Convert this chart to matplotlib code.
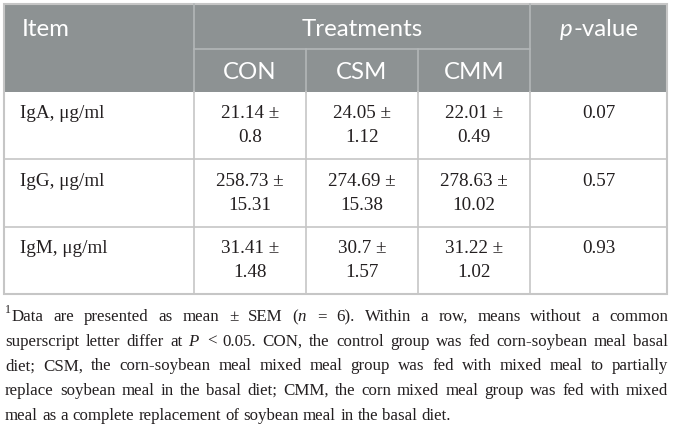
import matplotlib
matplotlib.use("Agg")
import matplotlib.pyplot as plt
from matplotlib.patches import Rectangle

# table values
items = ["IgA, μg/ml", "IgG, μg/ml", "IgM, μg/ml"]
groups = ["CON", "CSM", "CMM"]
con = [("21.14", "0.8"), ("258.73", "15.31"), ("31.41", "1.48")]
csm = [("24.05", "1.12"), ("274.69", "15.38"), ("30.7", "1.57")]
cmm = [("22.01", "0.49"), ("278.63", "10.02"), ("31.22", "1.02")]
pvals = ["0.07", "0.57", "0.93"]

footnote = [
    "Data are presented as mean ± SEM ($n$ = 6). Within a row, means without a common",
    "superscript letter differ at $P$ < 0.05. CON, the control group was fed corn-soybean meal basal",
    "diet; CSM, the corn-soybean meal mixed meal group was fed with mixed meal to partially",
    "replace soybean meal in the basal diet; CMM, the corn mixed meal group was fed with mixed",
    "meal as a complete replacement of soybean meal in the basal diet.",
]

plt.rcParams['mathtext.fontset'] = 'custom'
plt.rcParams['mathtext.rm'] = 'Liberation Serif'
plt.rcParams['mathtext.it'] = 'Liberation Serif:italic'

W, H = 673, 428
fig = plt.figure(figsize=(W / 100, H / 100), dpi=100)
ax = fig.add_axes([0, 0, 1, 1])
ax.set_xlim(0, W)
ax.set_ylim(H, 0)
ax.axis('off')

header_bg = '#8d9293'
header_line = '#b3b7b8'
grid = '#c6c6c6'
ink = '#231f20'
serif = 'Liberation Serif'
sans = 'Lato'

# column edges and row edges (pixels)
xs = [4, 194, 306, 418, 530, 667]
top, sub, hbot = 4, 49, 92
rows = [92, 159, 227, 294]

ax.add_patch(Rectangle((xs[0], top), xs[-1] - xs[0], hbot - top,
                       facecolor=header_bg, edgecolor='none'))
# header lines
ax.plot([xs[1], xs[4]], [sub, sub], color=header_line, lw=1.2)
for x in [xs[1], xs[4]]:
    ax.plot([x, x], [top, hbot], color=header_line, lw=1.2)
for x in [xs[2], xs[3]]:
    ax.plot([x, x], [sub, hbot], color=header_line, lw=1.2)

# body grid
for y in rows[1:-1]:
    ax.plot([xs[0], xs[-1]], [y, y], color=grid, lw=1.2)
for x in xs[1:-1]:
    ax.plot([x, x], [rows[0], rows[-1]], color=grid, lw=1.2)
ax.add_patch(Rectangle((xs[0], top), xs[-1] - xs[0], rows[-1] - top,
                       facecolor='none', edgecolor=grid, lw=1.5))

# header text
hs = 17.3
ax.text(22, 29, "Item", fontsize=hs, family=sans, color='white', va='center')
ax.text((xs[1] + xs[4]) / 2, 29, "Treatments", fontsize=hs, family=sans,
        color='white', va='center', ha='center')
for i, g in enumerate(groups):
    ax.text((xs[i + 1] + xs[i + 2]) / 2, 72, g, fontsize=hs, family=sans,
            color='white', va='center', ha='center')

fig.canvas.draw()
r = fig.canvas.get_renderer()
tp = ax.text(0, 29, "p", fontsize=hs, family=sans, style='italic',
             color='white', va='center')
tv = ax.text(0, 29, "-value", fontsize=hs, family=sans, color='white', va='center')
wp = tp.get_window_extent(r).width
wv = tv.get_window_extent(r).width
x0 = (xs[4] + xs[5]) / 2 - (wp + wv) / 2
tp.set_x(x0)
tv.set_x(x0 + wp + 1)

# body text
bs = 13.8
cols = [con, csm, cmm]
for j in range(3):
    y1 = (rows[j] + rows[j + 1]) / 2 - 12
    ax.text(20, y1, items[j], fontsize=bs, family=serif, color=ink, va='center')
    for i, c in enumerate(cols):
        cx = (xs[i + 1] + xs[i + 2]) / 2
        ax.text(cx, y1, c[j][0] + " ±", fontsize=bs, family=serif, color=ink,
                va='center', ha='center')
        ax.text(cx, y1 + 24, c[j][1], fontsize=bs, family=serif, color=ink,
                va='center', ha='center')
    ax.text((xs[4] + xs[5]) / 2, y1, pvals[j], fontsize=bs, family=serif,
            color=ink, va='center', ha='center')

# footnote, justified word by word
fs = 12.2
left, right = 5, 668
sup = ax.text(left, 310, "1", fontsize=fs * 0.7, family=serif, color=ink, va='center')
wsup = sup.get_window_extent(r).width + 1
for k, line in enumerate(footnote):
    y = 317 + k * 24.7
    words = line.split(' ')
    x_start = left + wsup if k == 0 else left
    ts = [ax.text(0, y, w, fontsize=fs, family=serif, color=ink, va='center')
          for w in words]
    ws = [t.get_window_extent(r).width for t in ts]
    if k < len(footnote) - 1:
        gap = (right - x_start - sum(ws)) / (len(ws) - 1)
    else:
        gap = fs * 100 / 72 * 0.25
    x = x_start
    for t, w in zip(ts, ws):
        t.set_x(x)
        x += w + gap

fig.savefig("out.png", dpi=100)
